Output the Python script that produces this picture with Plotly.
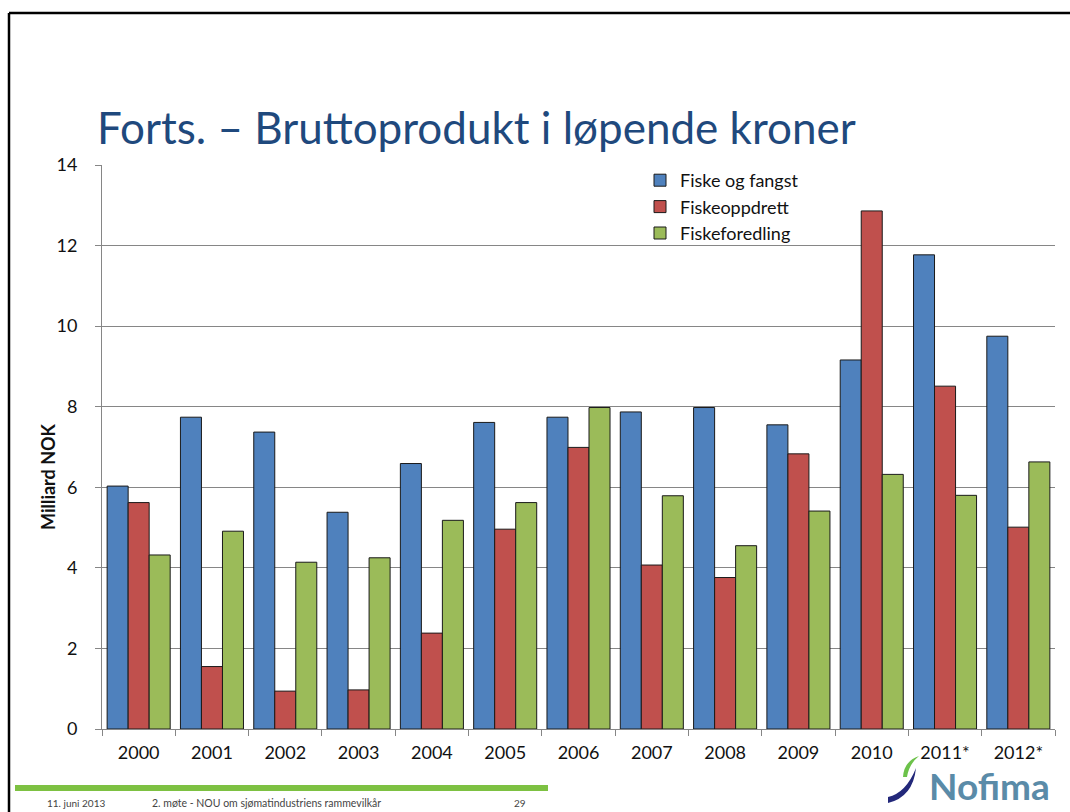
import plotly.graph_objects as go

years = ["2000", "2001", "2002", "2003", "2004", "2005", "2006", "2007",
         "2008", "2009", "2010", "2011*", "2012*"]
fiske_og_fangst = [6.03, 7.74, 7.37, 5.38, 6.59, 7.61, 7.74, 7.87, 7.98, 7.55, 9.16, 11.77, 9.75]
fiskeoppdrett = [5.62, 1.55, 0.94, 0.97, 2.38, 4.96, 6.99, 4.07, 3.76, 6.83, 12.86, 8.51, 5.01]
fiskeforedling = [4.32, 4.91, 4.14, 4.25, 5.18, 5.62, 7.98, 5.79, 4.55, 5.41, 6.32, 5.80, 6.63]

series_names = ["Fiske og fangst", "Fiskeoppdrett", "Fiskeforedling"]
series_colors = ["#4F81BD", "#C0504D", "#9BBB59"]

W, H = 1070, 812
L, R, T, B = 102, 1055, 165, 729
FONT = "Lato"


def px(x):
    return (x - L) / (R - L)


def py(y):
    return (B - y) / (B - T)


fig = go.Figure()
for name, vals, col in zip(series_names, [fiske_og_fangst, fiskeoppdrett, fiskeforedling], series_colors):
    fig.add_trace(go.Bar(
        x=years, y=vals, name=name,
        marker=dict(color=col, line=dict(color="#1a1a1a", width=1)),
    ))

shapes = []
# slide border
shapes.append(dict(type="line", xref="paper", yref="paper", x0=px(9), x1=px(1075), y0=py(13), y1=py(13),
                   line=dict(color="black", width=2.5)))
shapes.append(dict(type="line", xref="paper", yref="paper", x0=px(9), x1=px(9), y0=py(13), y1=py(815),
                   line=dict(color="black", width=2.5)))
# footer green bar
shapes.append(dict(type="rect", xref="paper", yref="paper", x0=px(15), x1=px(548), y0=py(785), y1=py(791),
                   fillcolor="#7DC142", line=dict(width=0)))
# Nofima swoosh (navy)
navy = "M {},{} Q {},{} {},{} Q {},{} {},{} Z".format(
    px(888), py(803), px(913), py(797), px(916), py(768), px(906), py(793), px(888), py(797))
shapes.append(dict(type="path", xref="paper", yref="paper", path=navy, fillcolor="#23287A", line=dict(width=0)))
leaf = "M {},{} Q {},{} {},{} Q {},{} {},{} Z".format(
    px(903), py(777), px(904), py(761), px(919), py(756), px(909), py(764), px(907), py(777))
shapes.append(dict(type="path", xref="paper", yref="paper", path=leaf, fillcolor="#6CC24A", line=dict(width=0)))

annotations = [
    dict(text="Forts. – Bruttoprodukt i løpende kroner", xref="paper", yref="paper",
         x=px(95), y=py(127), xanchor="left", yanchor="middle", showarrow=False,
         font=dict(family=FONT, size=44, color="#1F497D")),
    dict(text="<b>Milliard NOK</b>", xref="paper", yref="paper", x=px(48), y=py(477),
         xanchor="center", yanchor="middle", textangle=-90, showarrow=False,
         font=dict(family=FONT, size=18, color="#111")),
    dict(text="11. juni 2013", xref="paper", yref="paper", x=px(45), y=py(803),
         xanchor="left", yanchor="middle", showarrow=False, font=dict(family=FONT, size=10, color="#444")),
    dict(text="2. møte - NOU om sjømatindustriens rammevilkår", xref="paper", yref="paper", x=px(150), y=py(803),
         xanchor="left", yanchor="middle", showarrow=False, font=dict(family=FONT, size=10.5, color="#444")),
    dict(text="29", xref="paper", yref="paper", x=px(512), y=py(803),
         xanchor="left", yanchor="middle", showarrow=False, font=dict(family=FONT, size=10, color="#444")),
    dict(text="<b>Nofima</b>", xref="paper", yref="paper", x=px(927), y=py(785),
         xanchor="left", yanchor="middle", showarrow=False, font=dict(family=FONT, size=37, color="#5A8BA8")),
]

fig.update_layout(
    width=W, height=H,
    margin=dict(l=L, r=W - R, t=T, b=H - B, pad=0),
    paper_bgcolor="white", plot_bgcolor="white",
    barmode="group", bargap=0.14, bargroupgap=0,
    font=dict(family=FONT, size=18, color="#111"),
    showlegend=True,
    legend=dict(x=px(640), y=py(162), xanchor="left", yanchor="top",
                bgcolor="rgba(0,0,0,0)", font=dict(family=FONT, size=18, color="#111"),
                tracegroupgap=0, itemclick=False),
    shapes=shapes, annotations=annotations,
    xaxis=dict(type="category", showgrid=False, showline=True, linecolor="#868686", linewidth=1,
               ticks="outside", tickson="boundaries", ticklen=6, tickcolor="#868686",
               tickfont=dict(family=FONT, size=18, color="#111"), ticklabelstandoff=7),
    yaxis=dict(range=[0, 14], dtick=2, showgrid=True, gridcolor="#868686", gridwidth=1,
               showline=True, linecolor="#868686", linewidth=1, zeroline=False,
               ticks="outside", ticklen=6, tickcolor="#868686",
               tickfont=dict(family=FONT, size=18, color="#111"), ticklabelstandoff=14),
)

fig.write_html("out.html", config={"displayModeBar": False},
               post_script="document.body.style.margin='0';document.body.style.overflow='hidden';")
